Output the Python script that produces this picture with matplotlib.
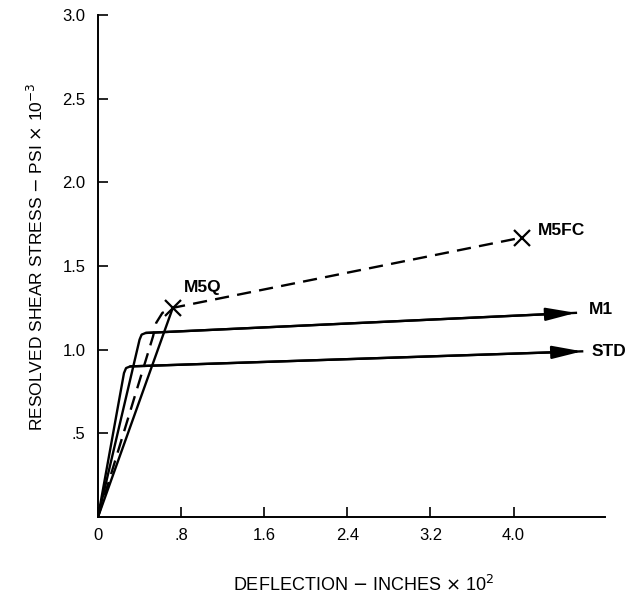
import matplotlib
matplotlib.use("Agg")
import matplotlib.pyplot as plt

# Data
x_std = [0, 0.25, 0.27, 0.31, 4.66]
y_std = [0, 0.86, 0.89, 0.90, 0.99]

x_m1 = [0, 0.40, 0.42, 0.46, 4.60]
y_m1 = [0, 1.06, 1.09, 1.10, 1.22]

x_m5q = [0, 0.72]
y_m5q = [0, 1.25]

x_m5fc = [0, 0.53, 0.56, 0.62, 0.72, 4.08]
y_m5fc = [0, 1.08, 1.16, 1.22, 1.25, 1.67]

xticks = [0, 0.8, 1.6, 2.4, 3.2, 4.0]
xticklabels = ["0", ".8", "1.6", "2.4", "3.2", "4.0"]
yticks = [0.5, 1.0, 1.5, 2.0, 2.5, 3.0]
yticklabels = [".5", "1.0", "1.5", "2.0", "2.5", "3.0"]

plt.rcParams['font.family'] = ['Liberation Sans', 'DejaVu Sans']

fig = plt.figure(figsize=(6.39, 5.97), dpi=100)
ax = fig.add_axes([98/639, 1-517/597, (605-98)/639, (517-15)/597])
ax.set_xlim(0, 4.88)
ax.set_ylim(0, 3.0)
for s in ['top', 'right']:
    ax.spines[s].set_visible(False)
for s in ['left', 'bottom']:
    ax.spines[s].set_linewidth(1.4)

lw = 1.7
ax.plot(x_std, y_std, color='black', lw=lw, solid_joinstyle='round')
ax.plot(x_m1, y_m1, color='black', lw=lw, solid_joinstyle='round')
ax.plot(x_m5q, y_m5q, color='black', lw=lw)
ax.plot(x_m5fc, y_m5fc, color='black', lw=lw, dashes=(6, 3.5))

# Arrowheads at the ends of STD and M1
for xs, ys in [(x_std, y_std), (x_m1, y_m1)]:
    ax.annotate('', xy=(xs[-1], ys[-1]), xytext=(xs[-2], ys[-2]),
                arrowprops=dict(arrowstyle='-|>,head_length=1.3,head_width=0.28',
                                color='black', lw=lw, shrinkA=0, shrinkB=0,
                                mutation_scale=14))

# X markers
ax.plot([x_m5q[-1], x_m5fc[-1]], [y_m5q[-1], y_m5fc[-1]], linestyle='none',
        marker='x', color='black', markersize=11, mew=1.6)

fs = 12
lfs = 12.5
ax.text(x_m5q[-1] + 0.11, y_m5q[-1] + 0.12, "M5Q", fontsize=lfs, fontweight='bold',
        ha='left', va='center')
ax.text(x_m5fc[-1] + 0.15, y_m5fc[-1] + 0.04, "M5FC", fontsize=lfs, fontweight='bold',
        ha='left', va='center')
ax.text(x_m1[-1] + 0.12, y_m1[-1] + 0.02, "M1", fontsize=lfs, fontweight='bold',
        ha='left', va='center')
ax.text(x_std[-1] + 0.09, y_std[-1] + 0.0, "STD", fontsize=lfs, fontweight='bold',
        ha='left', va='center')

ax.set_xticks(xticks)
ax.set_xticklabels(xticklabels)
ax.set_yticks(yticks)
ax.set_yticklabels(yticklabels)
ax.tick_params(direction='in', length=7, width=1.2, labelsize=fs)
ax.tick_params(axis='x', pad=8)
ax.tick_params(axis='y', pad=9)

fig.text(364/639, 1-585/597, r"DEFLECTION $-$ INCHES $\times$ 10$^2$", fontsize=13,
         ha='center', va='center')
fig.text(36/639, 1-257/597, r"RESOLVED SHEAR STRESS $-$ PSI $\times$ 10$^{-3}$",
         fontsize=12.5, ha='center', va='center', rotation=90)

fig.savefig("out.png", dpi=100)
